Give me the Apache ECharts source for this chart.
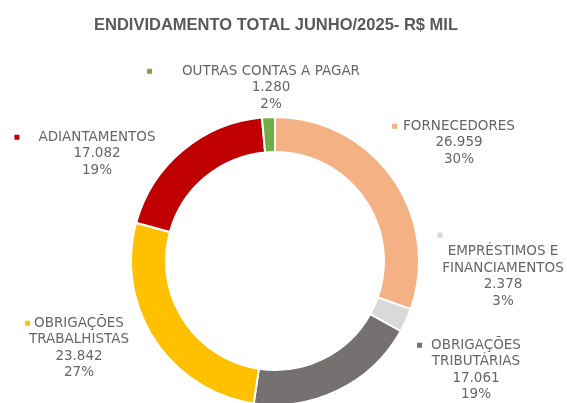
<!DOCTYPE html>
<html lang="pt-br">
<head>
    <meta charset="utf-8">
    <title>Endividamento total</title>
    <script src="https://cdn.jsdelivr.net/npm/echarts@6/dist/echarts.min.js"></script>
    <style>
        html, body { margin: 0; padding: 0; background: #fff; }
        #main { width: 567px; height: 403px; }
    </style>
</head>
<body>
<div id="main"></div>
<script type="text/javascript">
    // dados (R$ mil)
    var categorias = ['FORNECEDORES', 'EMPRÉSTIMOS E\nFINANCIAMENTOS', 'OBRIGAÇÕES\nTRIBUTÁRIAS',
        'OBRIGAÇÕES\nTRABALHISTAS', 'ADIANTAMENTOS', 'OUTRAS CONTAS A PAGAR'];
    var valores = [26959, 2378, 17061, 23842, 17082, 1280];
    var rotulosValor = ['26.959', '2.378', '17.061', '23.842', '17.082', '1.280'];
    var rotulosPct = ['30%', '3%', '19%', '27%', '19%', '2%'];
    var cores = ['#F4B183', '#D9D9D9', '#767171', '#FFC000', '#C00000', '#70AD47'];

    // posição dos rótulos (centro x, topo y) e espaço entre marcador e texto
    var posRotulos = [[459, 118], [503, 227], [476, 337], [79, 315], [97, 129], [271, 63]];
    var espacoMarcador = [6, 0, 9, 4, 19, 30];

    var dados = valores.map(function (v, i) {
        var linhas = categorias[i].split('\n');
        var txt;
        if (i === 1) {
            // marcador em linha própria, acima do texto
            txt = '{m' + i + '|}{s|}\n';
        } else {
            txt = '{m' + i + '|}{g' + i + '|}';
        }
        txt += linhas.map(function (l, k) {
            if (i !== 1 && k === 0) return l + '{r' + i + '|}';
            return l;
        }).join('\n');
        txt += '\n' + rotulosValor[i] + '\n' + rotulosPct[i];
        return {name: categorias[i], value: v, rotulo: txt, itemStyle: {color: cores[i]}};
    });

    var fonteRotulo = 'DejaVu Sans';
    var rich = {s: {width: 126, height: 5}};
    cores.forEach(function (c, i) {
        rich['m' + i] = {width: 5, height: 5, backgroundColor: c};
        rich['g' + i] = {width: espacoMarcador[i]};
        rich['r' + i] = {width: espacoMarcador[i] + 5};
    });

    var myChart = echarts.init(document.getElementById('main'));
    var option = {
        backgroundColor: '#ffffff',
        animation: false,
        title: {
            text: 'ENDIVIDAMENTO TOTAL JUNHO/2025- R$ MIL',
            left: 89,
            top: 12,
            textStyle: {
                fontFamily: 'Liberation Sans',
                fontSize: 16.5,
                fontWeight: 'bold',
                color: '#595959'
            }
        },
        series: [{
            type: 'pie',
            center: [275, 261],
            radius: [109, 144],
            startAngle: 90,
            clockwise: true,
            itemStyle: {borderColor: '#ffffff', borderWidth: 2},
            labelLine: {show: false},
            label: {
                show: true,
                position: 'outside',
                formatter: function (p) { return p.data.rotulo; },
                fontFamily: fonteRotulo,
                fontSize: 13.5,
                lineHeight: 16.5,
                color: '#666666',
                align: 'center',
                overflow: 'none',
                rich: rich
            },
            labelLayout: function (p) {
                var pos = posRotulos[p.dataIndex];
                return {x: pos[0], y: pos[1], align: 'center', verticalAlign: 'top'};
            },
            data: dados
        }]
    };
    myChart.setOption(option);
</script>
</body>
</html>
